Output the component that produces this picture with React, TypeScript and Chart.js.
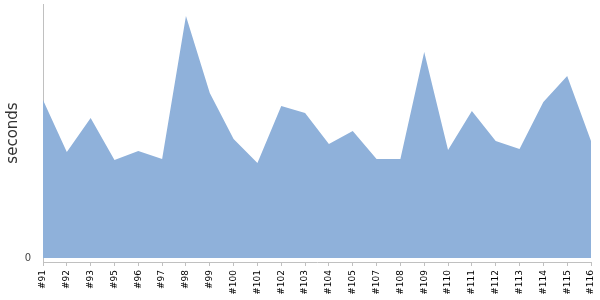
import React, { useEffect, useRef } from "react";
import { Chart, registerables } from "chart.js";

Chart.register(...registerables);

const builds: string[] = [
  "#91", "#92", "#93", "#95", "#96", "#97", "#98", "#99", "#100", "#101", "#102", "#103",
  "#104", "#105", "#107", "#108", "#109", "#110", "#111", "#112", "#113", "#114", "#115", "#116",
];

const seconds: number[] = [
  158, 106, 140, 98, 107, 99, 242, 165, 119, 95, 152, 145,
  114, 127, 99, 99, 206, 108, 147, 117, 109, 156, 182, 117,
];

const yTicks: number[] = [0];

export default function App() {
  const ref = useRef<HTMLCanvasElement | null>(null);

  useEffect(() => {
    if (!ref.current) return;
    const chart = new Chart(ref.current, {
      type: "line",
      data: {
        labels: builds,
        datasets: [
          {
            data: seconds,
            fill: "origin",
            backgroundColor: "#8fb1da",
            borderColor: "#8fb1da",
            borderWidth: 0,
            pointRadius: 0,
            tension: 0,
          },
        ],
      },
      options: {
        animation: false,
        responsive: true,
        maintainAspectRatio: false,
        layout: { padding: { top: 4, right: 9, left: 0, bottom: 0 } },
        plugins: { legend: { display: false }, tooltip: { enabled: false } },
        scales: {
          x: {
            offset: false,
            grid: {
              drawOnChartArea: false,
              drawTicks: true,
              tickLength: 4,
              color: "#c0c0c0",
            },
            border: { display: true, color: "#c0c0c0" },
            ticks: {
              autoSkip: false,
              maxRotation: 90,
              minRotation: 90,
              padding: 4,
              color: "#000",
              font: { family: "DejaVu Sans", size: 9 },
            },
            afterFit: (s: any) => {
              s.height = 38;
              s.paddingLeft = 0;
              s.paddingRight = 0;
            },
          },
          y: {
            min: -4,
            max: 254,
            grid: { display: false, drawTicks: false },
            border: { display: true, color: "#c0c0c0" },
            afterBuildTicks: (axis: any) => {
              axis.ticks = yTicks.map((v) => ({ value: v }));
            },
            ticks: {
              padding: 12,
              color: "#444",
              font: { family: "DejaVu Sans", size: 10 },
            },
            title: {
              display: true,
              text: "seconds",
              color: "#333",
              font: { family: "DejaVu Sans", size: 15 },
              padding: { top: 4, bottom: 0 },
            },
            afterFit: (s: any) => {
              s.width = 43;
              s.paddingTop = 0;
              s.paddingBottom = 0;
            },
          },
        },
      },
    });
    return () => chart.destroy();
  }, []);

  return (
    <div style={{ position: "fixed", left: 0, top: 0, width: 600, height: 300, background: "#fff" }}>
      <canvas ref={ref} />
    </div>
  );
}
